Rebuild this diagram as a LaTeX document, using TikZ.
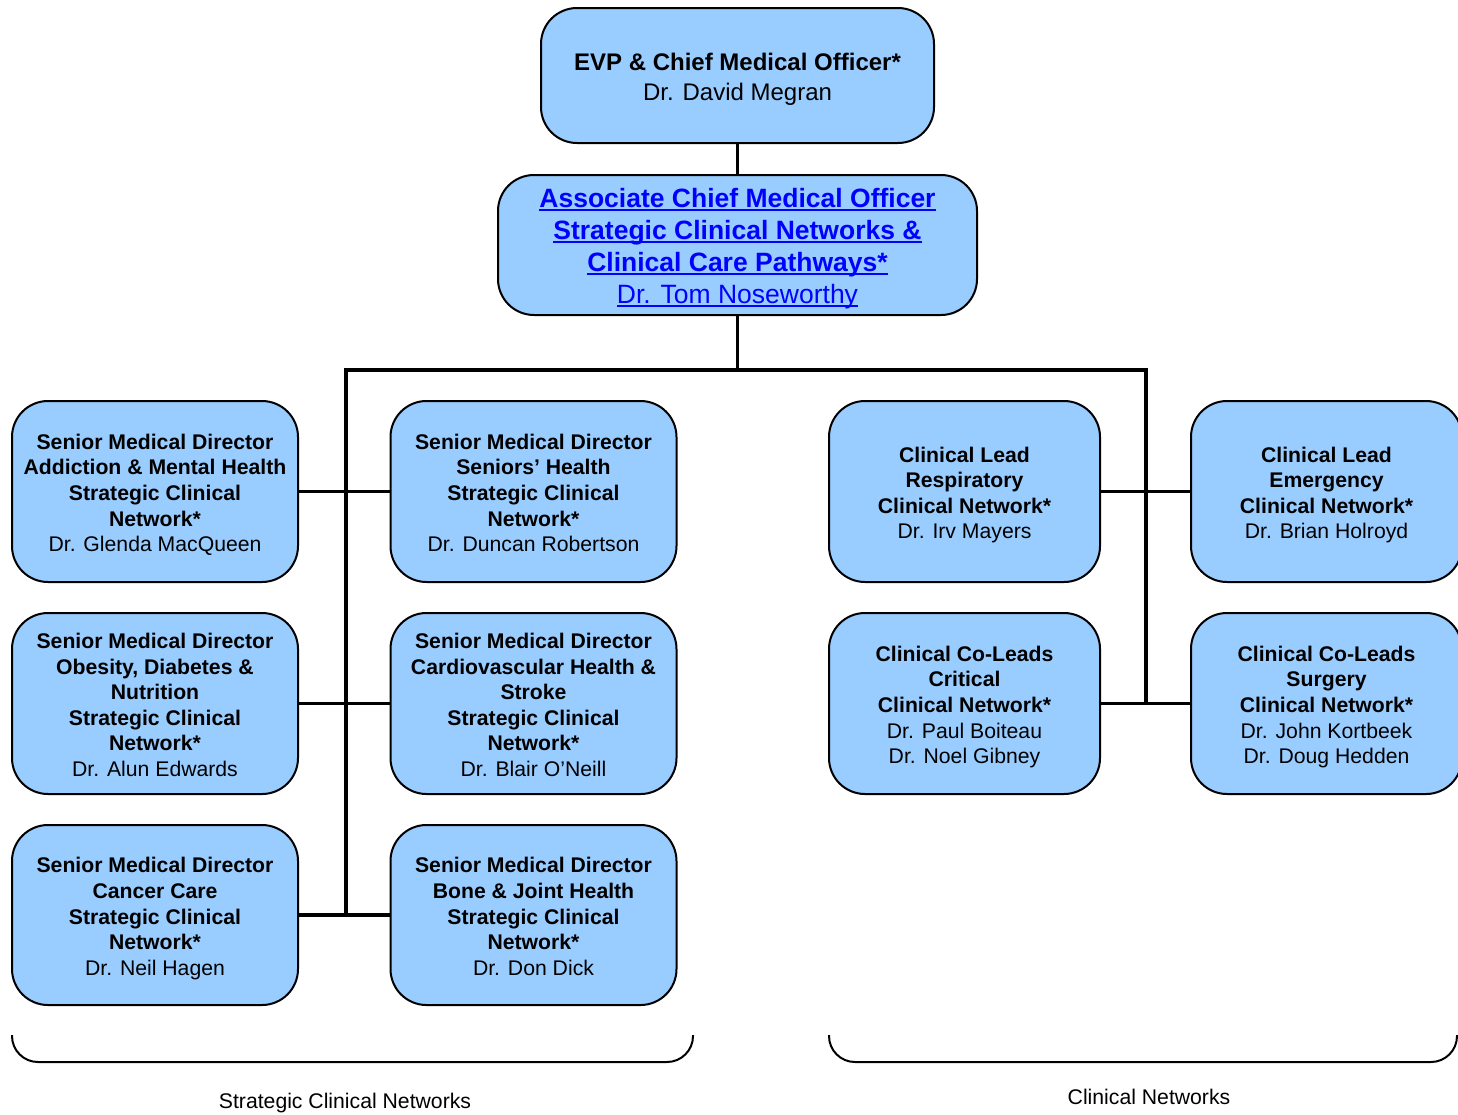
\documentclass[tikz,border=0pt]{standalone}
\usepackage{fontspec}
\setmainfont{Liberation Sans}
\newcommand\myul[1]{\setbox0\hbox{#1}\rlap{\rule[-3.5pt]{\wd0}{2.2pt}}\box0}
\newcommand\ts{\rule{0pt}{\dimexpr\fontcharht\font`\d+8pt\relax}}
\newcommand\bs{\rule[-0.21em]{0pt}{0.21em}}
\definecolor{boxblue}{HTML}{99CCFF}
\definecolor{linkblue}{HTML}{0000FF}
\newcommand\fbody{\fontsize{21.2}{25.6}\selectfont}
\newcommand\ftop{\fontsize{24}{30}\selectfont}
\newcommand\faco{\fontsize{26.5}{32}\selectfont}
\tikzset{
  box/.style={draw, line width=2pt, fill=boxblue, rounded corners=36pt, align=center, inner sep=0pt, font=\fbody},
  smallbox/.style={box, minimum width=286pt, minimum height=181pt},
  clinbox/.style={box, minimum width=271pt, minimum height=181pt},
  conn/.style={line width=3.5pt},
  bracket/.style={line width=2pt, rounded corners=26pt},
  lbl/.style={font=\fbody, inner sep=0pt}
}
\begin{document}
\begin{tikzpicture}[x=1pt,y=-1pt]
\useasboundingbox (0,0) rectangle (1458,1114);
\clip (0,0) rectangle (1458,1114);
% top boxes
\node[box, font=\ftop, minimum width=393pt, minimum height=135pt] (top) at (737.5,75.5)
  {\ts\textbf{EVP \& Chief Medical Officer*}\\Dr. David Megran\bs};
\node[box, font=\faco, text=linkblue, minimum width=479pt, minimum height=140pt] (aco) at (737.5,245)
  {\ts\myul{\textbf{Associate Chief Medical Officer}}\\\myul{\textbf{Strategic Clinical Networks \&}}\\\myul{\textbf{Clinical Care Pathways*}}\\\myul{Dr. Tom Noseworthy}};
% strategic clinical networks
\node[smallbox] (l1) at (155,491.5)
  {\ts\textbf{Senior Medical Director}\\\textbf{Addiction \& Mental Health}\\\textbf{Strategic Clinical}\\\textbf{Network*}\\Dr. Glenda MacQueen\bs};
\node[smallbox] (l2) at (155,703.5)
  {\ts\textbf{Senior Medical Director}\\\textbf{Obesity, Diabetes \&}\\\textbf{Nutrition}\\\textbf{Strategic Clinical}\\\textbf{Network*}\\Dr. Alun Edwards\bs};
\node[smallbox, minimum height=180pt] (l3) at (155,915)
  {\ts\textbf{Senior Medical Director}\\\textbf{Cancer Care}\\\textbf{Strategic Clinical}\\\textbf{Network*}\\Dr. Neil Hagen\bs};
\node[smallbox] (m1) at (533.5,491.5)
  {\ts\textbf{Senior Medical Director}\\\textbf{Seniors’ Health}\\\textbf{Strategic Clinical}\\\textbf{Network*}\\Dr. Duncan Robertson\bs};
\node[smallbox] (m2) at (533.5,703.5)
  {\ts\textbf{Senior Medical Director}\\\textbf{Cardiovascular Health \&}\\\textbf{Stroke}\\\textbf{Strategic Clinical}\\\textbf{Network*}\\Dr. Blair O’Neill\bs};
\node[smallbox, minimum height=180pt] (m3) at (533.5,915)
  {\ts\textbf{Senior Medical Director}\\\textbf{Bone \& Joint Health}\\\textbf{Strategic Clinical}\\\textbf{Network*}\\Dr. Don Dick\bs};
% clinical networks
\node[clinbox] (r1) at (964.5,491.5)
  {\ts\textbf{Clinical Lead}\\\textbf{Respiratory}\\\textbf{Clinical Network*}\\Dr. Irv Mayers\bs};
\node[clinbox] (r2) at (964.5,703.5)
  {\ts\textbf{Clinical Co-Leads}\\\textbf{Critical}\\\textbf{Clinical Network*}\\Dr. Paul Boiteau\\Dr. Noel Gibney\bs};
\node[clinbox] (f1) at (1326.5,491.5)
  {\ts\textbf{Clinical Lead}\\\textbf{Emergency}\\\textbf{Clinical Network*}\\Dr. Brian Holroyd\bs};
\node[clinbox] (f2) at (1326.5,703.5)
  {\ts\textbf{Clinical Co-Leads}\\\textbf{Surgery}\\\textbf{Clinical Network*}\\Dr. John Kortbeek\\Dr. Doug Hedden\bs};
% bus coordinates
\coordinate (busL) at (346,370);
\coordinate (busR) at (1146,370);
\coordinate (trunkL) at (346,915);
\coordinate (trunkR) at (1146,703.5);
% connectors
\draw[conn] (top) -- (aco);
\draw[conn] (aco.south) -- (aco.south |- busL);
\draw[conn] (trunkL) -- (busL) -- (busR) -- (trunkR);
\draw[conn] (l1.east) -- (m1.west);
\draw[conn] (l2.east) -- (m2.west);
\draw[conn] (l3.east) -- (m3.west);
\draw[conn] (r1.east) -- (f1.west);
\draw[conn] (r2.east) -- (f2.west);
% brackets
\coordinate (bSa) at (12,1035);
\coordinate (bSb) at (693,1035);
\coordinate (bCa) at (829,1035);
\coordinate (bCb) at (1457,1035);
\draw[bracket] (bSa) -- (12,1062) -- (693,1062) -- (bSb);
\draw[bracket] (bCa) -- (829,1062) -- (1457,1062) -- (bCb);
\node[lbl] (lblS) at (345,1103) {Strategic Clinical Networks};
\node[lbl] (lblC) at (1149,1097) {Clinical Networks};
\end{tikzpicture}
\end{document}
